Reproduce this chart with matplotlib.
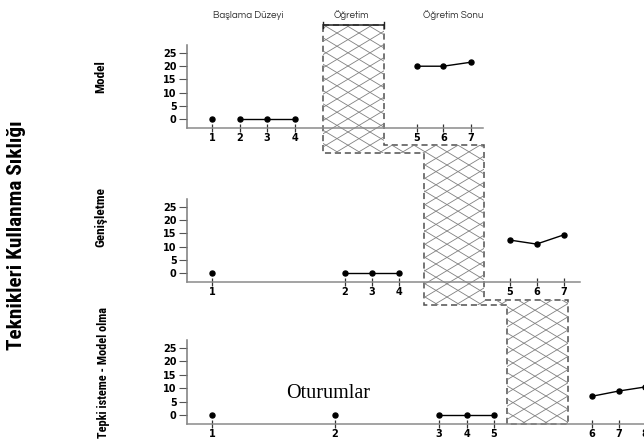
import numpy as np
import matplotlib.pyplot as plt
from matplotlib.patches import Polygon
from matplotlib.collections import LineCollection

# veriler
model_sessions = [1, 2, 3, 4, 5, 6, 7]
model_values = [0, 0, 0, 0, 20, 20, 21.5]
genis_sessions = [1, 2, 3, 4, 5, 6, 7]
genis_values = [0, 0, 0, 0, 12.5, 11, 14.5]
tepki_sessions = [1, 2, 3, 4, 5, 6, 7, 8]
tepki_values = [0, 0, 0, 0, 0, 7, 9, 10.5]
y_ticks = [0, 5, 10, 15, 20, 25]
panel_titles = ["Model", "Genişletme", "Tepki isteme - Model olma"]
phase_titles = ["Başlama Düzeyi", "Öğretim", "Öğretim Sonu"]
y_title = "Teknikleri Kullanma Sıklığı"
x_title = "Oturumlar"

# yerleşim (piksel / slot)
W, H = 644, 441
SLOT = 27.5
X0 = 212
AX_LEFT, AX_RIGHT = 187, 660
pos = [
    [0, 1.02, 2, 3, 7.44, 8.41, 9.41],
    [0, 4.84, 5.82, 6.8, 10.84, 11.8, 12.8],
    [0, 4.47, 8.25, 9.27, 10.25, 13.8, 14.8, 15.75],
]
groups = [
    [[1], [2, 3, 4], [5, 6, 7]],
    [[1], [2, 3, 4], [5, 6, 7]],
    [[1], [2], [3, 4, 5], [6, 7, 8]],
]
panel_px = [(45, 128), (199, 282), (340, 424)]
axis_end = [9.85, 13.38, 20]
ylim = (-3.3, 28)
narrow = ['Roboto Condensed', 'Archivo Narrow', 'DejaVu Sans']
gothic = ['Questrial', 'Didact Gothic', 'DejaVu Sans']


def px(slot):
    return X0 + SLOT * slot


fig = plt.figure(figsize=(W / 100, H / 100), dpi=100)

# tarali ogretim bolgesi
ov = fig.add_axes([0, 0, 1, 1], zorder=0)
ov.set_xlim(0, W)
ov.set_ylim(H, 0)
ov.axis('off')

b1 = (px(4.04), px(6.25))
b2 = (px(7.71), px(9.9))
b3 = (px(10.73), px(12.95))
stair = [(b1[0], 25), (b1[1], 25), (b1[1], 145), (b2[1], 145), (b2[1], 300),
         (b3[1], 300), (b3[1], 424), (b3[0], 424), (b3[0], 305), (b2[0], 305),
         (b2[0], 153), (b1[0], 153)]
poly = Polygon(stair, closed=True, fill=False, edgecolor='#505050', lw=1.1,
               linestyle=(0, (4, 2.5)))
ov.add_patch(poly)
segs = []
s = 0.6
for c in np.arange(-1500, 1500, 22):
    segs.append([(-200, s * (-200 - c)), (900, s * (900 - c))])
    segs.append([(-200, -s * (-200 - c)), (900, -s * (900 - c))])
lc = LineCollection(segs, colors='#808080', linewidths=0.6)
ov.add_collection(lc)
lc.set_clip_path(poly)
ov.plot([b1[0], b1[1]], [25, 25], color='#222222', lw=1.1)
ov.plot([b1[0], b1[0]], [22, 28], color='#222222', lw=1)
ov.plot([b1[1], b1[1]], [22, 28], color='#222222', lw=1)

all_sessions = [model_sessions, genis_sessions, tepki_sessions]
all_values = [model_values, genis_values, tepki_values]

for i in range(3):
    top, bot = panel_px[i]
    ax = fig.add_axes([AX_LEFT / W, 1 - bot / H, (AX_RIGHT - AX_LEFT) / W,
                       (bot - top) / H], zorder=2)
    ax.patch.set_alpha(0)
    ax.set_xlim((AX_LEFT - X0) / SLOT, (AX_RIGHT - X0) / SLOT)
    ax.set_ylim(*ylim)
    sess = all_sessions[i]
    vals = all_values[i]
    for g in groups[i]:
        xs = [pos[i][sess.index(k)] for k in g]
        ys = [vals[sess.index(k)] for k in g]
        ax.plot(xs, ys, color='black', lw=1, marker='o', ms=3.6, clip_on=False)
    ax.set_xticks(pos[i])
    ax.set_xticklabels([str(k) for k in sess], fontweight='bold', fontsize=7)
    ax.set_yticks(y_ticks)
    ax.set_yticklabels([str(k) for k in y_ticks], fontweight='bold', fontsize=7)
    for sp in ['top', 'right']:
        ax.spines[sp].set_visible(False)
    ax.spines['left'].set_color('#7a7a7a')
    ax.spines['bottom'].set_color('#8a8a8a')
    ax.spines['left'].set_linewidth(1.1)
    ax.spines['bottom'].set_linewidth(1.1)
    ax.spines['bottom'].set_bounds((AX_LEFT - X0) / SLOT, axis_end[i])
    ax.tick_params(axis='y', direction='out', length=6, width=0.8,
                   color='#555555', pad=1.5)
    ax.tick_params(axis='x', direction='inout', length=6, width=0.9,
                   color='#333333', pad=0.5)

# etiketler
label_xy = [(101, 77), (101, 217), (103, 372)]
label_fs = [9.5, 9.5, 8.8]
for t, (x, y), fs in zip(panel_titles, label_xy, label_fs):
    fig.text(x / W, 1 - y / H, t, rotation=90, ha='center', va='center',
             fontsize=fs, fontweight='bold', family=narrow)
fig.text(17 / W, 1 - 235 / H, y_title, rotation=90, ha='center', va='center',
         fontsize=15.3, fontweight='bold', family=narrow)
phase_xy = [(248, 15), (351, 15), (453, 15)]
for t, (x, y) in zip(phase_titles, phase_xy):
    fig.text(x / W, 1 - y / H, t, ha='center', va='center', fontsize=7,
             color='#333333', family=gothic)
fig.text(328 / W, 1 - 393 / H, x_title, ha='center', va='center',
         fontsize=14.5, family=['Liberation Serif', 'DejaVu Serif'])

fig.savefig('out.png', dpi=100)
